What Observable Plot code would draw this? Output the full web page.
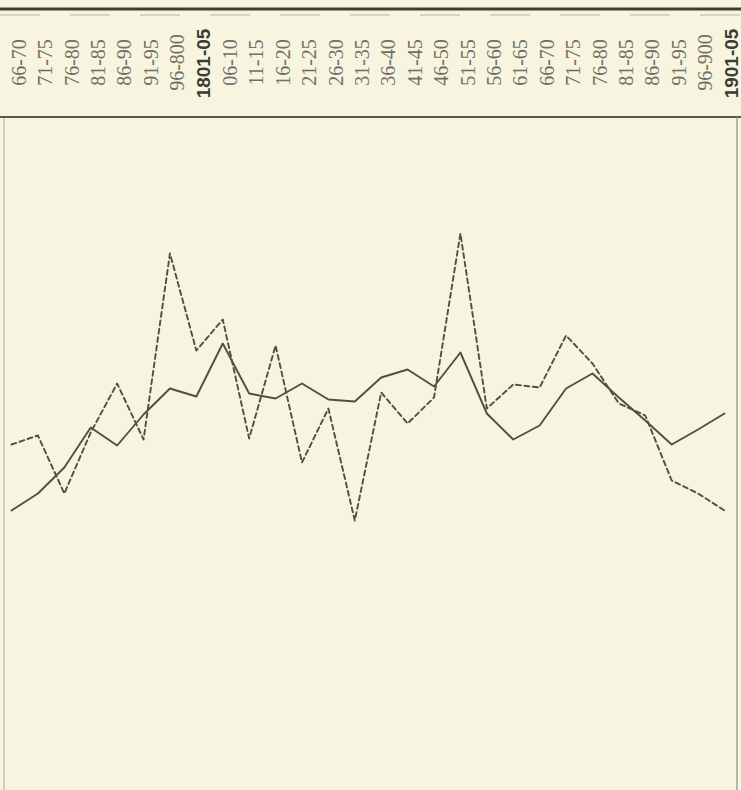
<!DOCTYPE html>
<html>
<head>
<meta charset="utf-8">
<script src="https://cdn.jsdelivr.net/npm/d3@7"></script>
<script src="https://cdn.jsdelivr.net/npm/@observablehq/plot@0.6"></script>
<style>
  html, body { margin: 0; padding: 0; background: #f7f5df; }
  #chart svg { display: block; background: #f7f5df; }
  #chart svg text.lbl { font-family: "Liberation Serif", "Times New Roman", serif; }
</style>
</head>
<body>
<div id="chart"></div>
<script>
// Five-year periods (header labels)
const periods = ["66-70","71-75","76-80","81-85","86-90","91-95","96-800","1801-05","06-10","11-15","16-20","21-25","26-30","31-35","36-40","41-45","46-50","51-55","56-60","61-65","66-70","71-75","76-80","81-85","86-90","91-95","96-900","1901-05"];
const boldPeriods = ["1801-05","1901-05"];

// Solid series (arbitrary units)
const solidSeries = [280,297,323,363,345,376,402,394,447,397,392,407,391,389,413,421,404,438,377,351,365,402,417,393,370,346,361,377];
// Dashed series
const dashedSeries = [346,355,297,358,407,351,537,440,471,352,445,328,382,270,398,367,393,557,382,406,403,455,427,387,375,310,297,280];

const ink = "#4f4f46";
const solidData = solidSeries.map((v, i) => ({i, v}));
const dashedData = dashedSeries.map((v, i) => ({i, v}));
const labelData = periods.map((p, i) => ({i, p, bold: boldPeriods.includes(p)}));

const W = 741, H = 790, TOP = 118;

const chart = Plot.plot({
  width: W,
  height: H,
  marginTop: TOP,
  marginLeft: 0,
  marginRight: 0,
  marginBottom: 0,
  style: {background: "#f7f5df", overflow: "visible"},
  x: {type: "linear", domain: [0, periods.length - 1], range: [11, 724], axis: null},
  y: {domain: [0, 672], axis: null},
  marks: [
    Plot.line(dashedData, {x: "i", y: "v", stroke: ink, strokeWidth: 1.9, strokeDasharray: "5,3.5", curve: "linear"}),
    Plot.line(solidData, {x: "i", y: "v", stroke: ink, strokeWidth: 1.9, curve: "linear"}),
    Plot.text(labelData.filter(d => !d.bold), {
      x: "i", text: "p", frameAnchor: "top", dy: -56, rotate: -90, className: "lbl",
      textAnchor: "middle", fontFamily: "Liberation Serif", fontSize: 20, fill: "#707066"
    }),
    Plot.text(labelData.filter(d => d.bold), {
      x: "i", text: "p", frameAnchor: "top", dy: -55, rotate: -90,
      textAnchor: "middle", fontFamily: "Liberation Sans", fontWeight: "bold", fontSize: 19, fill: "#3c3c35"
    })
  ]
});

// header rules and borders (decoration)
const svg = d3.select(chart);
svg.selectAll("g.lbl text, text.lbl").attr("font-family", "Liberation Serif");
svg.append("line").attr("x1", 0).attr("x2", W).attr("y1", 9).attr("y2", 9)
  .attr("stroke", "#3e3e37").attr("stroke-width", 3);
svg.append("line").attr("x1", 0).attr("x2", W).attr("y1", 15).attr("y2", 15)
  .attr("stroke", "#b9b7a2").attr("stroke-width", 1).attr("stroke-dasharray", "40,30");
svg.append("line").attr("x1", 0).attr("x2", W).attr("y1", 117).attr("y2", 117)
  .attr("stroke", "#5a5a50").attr("stroke-width", 2);
svg.append("line").attr("x1", 737).attr("x2", 737).attr("y1", 117).attr("y2", H)
  .attr("stroke", "#8c8b7f").attr("stroke-width", 1.2);
svg.append("line").attr("x1", 4).attr("x2", 4).attr("y1", 118).attr("y2", H)
  .attr("stroke", "#d0cfb8").attr("stroke-width", 2);

document.getElementById("chart").appendChild(chart);
</script>
</body>
</html>
